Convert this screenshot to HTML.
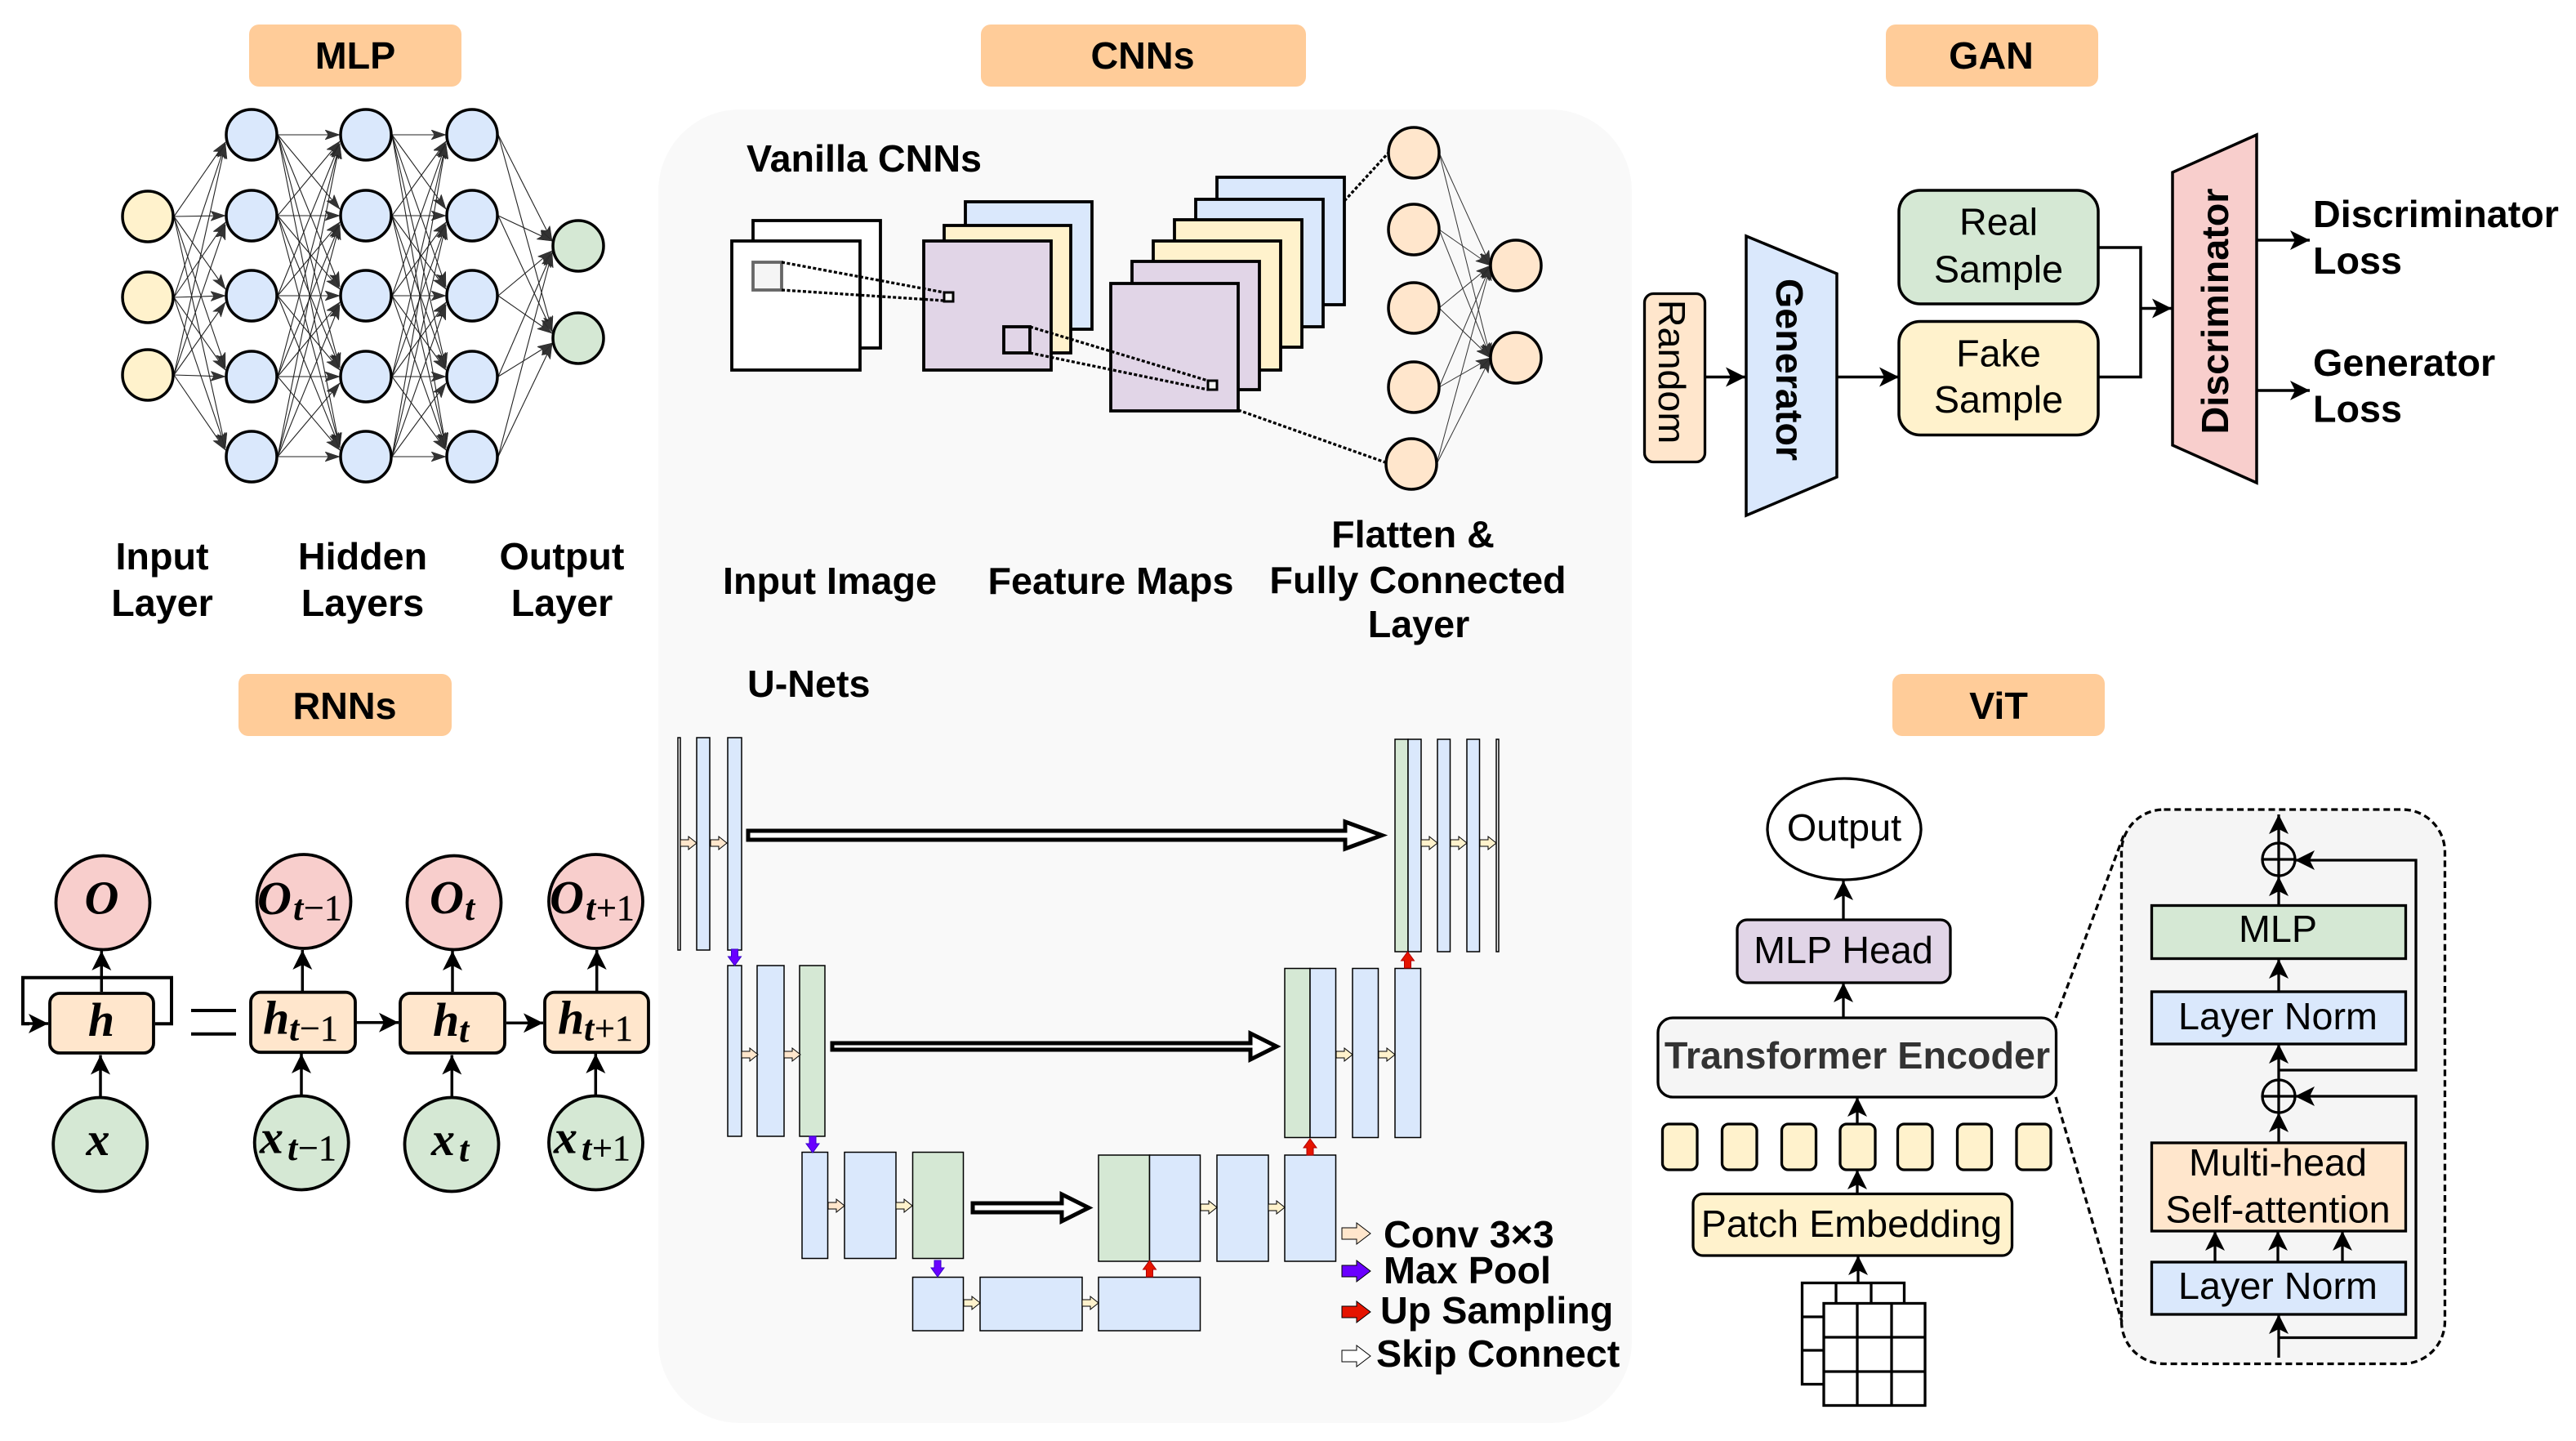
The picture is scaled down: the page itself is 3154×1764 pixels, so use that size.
<!DOCTYPE html>
<html><head><meta charset="utf-8"><title>Diagram</title>
<style>html,body{margin:0;padding:0;background:#fff}svg{display:block}text{font-family:"Liberation Sans",sans-serif;font-size:46.7px;fill:#000}.b{font-weight:700}.m{text-anchor:middle}.i{font-family:"Liberation Serif",serif;font-style:italic;font-weight:700;font-size:58px}.s{font-family:"Liberation Serif",serif;font-size:44px;stroke:#000;stroke-width:.4}.si{font-style:italic;font-weight:700;stroke:none}</style></head><body>
<svg xmlns="http://www.w3.org/2000/svg" width="3154" height="1764" viewBox="0 0 3154 1764">
<defs>
<marker id="g" markerUnits="userSpaceOnUse" markerWidth="20" markerHeight="14" refX="18" refY="6" orient="auto"><path d="M18 6L0 0L4 6L0 12Z" fill="#333" stroke="#222" stroke-width=".5"/></marker>
<marker id="a" markerUnits="userSpaceOnUse" markerWidth="26" markerHeight="26" refX="24" refY="12" orient="auto"><path d="M24 12L0 0L6 12L0 24Z" fill="#000"/></marker>
<path id="c" d="M0-4H10V-8L20 0L10 8V4H0Z" stroke="#000" stroke-width="1"/>
<path id="dn" d="M-4 0H4V9H8L0 20L-8 9H-4Z" fill="#6a00ff" stroke="#3700cc" stroke-width="1"/>
<path id="up" d="M-4 0H4V-9H8L0-20L-8-9H-4Z" fill="#e51400" stroke="#b20000" stroke-width="1"/>
<path id="l" d="M0-7H18V-13L35 0L18 13V7H0Z" stroke="#000" stroke-width="1"/>
</defs>

<!-- titles -->
<g fill="#ffcc99">
<rect x="305" y="30" width="260" height="76" rx="12"/>
<rect x="1201" y="30" width="398" height="76" rx="12"/>
<rect x="2309" y="30" width="260" height="76" rx="12"/>
<rect x="292" y="825" width="261" height="76" rx="12"/>
<rect x="2317" y="825" width="260" height="76" rx="12"/>
</g>
<text class="b m" x="435" y="84">MLP</text>
<text class="b m" x="1399" y="84">CNNs</text>
<text class="b m" x="2438" y="84">GAN</text>
<text class="b m" x="422" y="880">RNNs</text>
<text class="b m" x="2447" y="880">ViT</text>

<!-- MLP -->
<g stroke="#222" stroke-width="1.100" fill="none" marker-end="url(#g)">
<path d="M213 265L276 174"/><path d="M213 265L276 264"/><path d="M213 265L276 354"/><path d="M213 265L276 450"/><path d="M213 265L276 548"/>
<path d="M213 364L276 176"/><path d="M213 364L276 272"/><path d="M213 364L276 362"/><path d="M213 364L276 453"/><path d="M213 364L276 548"/>
<path d="M213 459L276 176"/><path d="M213 459L276 275"/><path d="M213 459L276 370"/><path d="M213 459L276 461"/><path d="M213 459L276 551"/>
<path d="M340 165L416 165"/><path d="M340 165L416 256"/><path d="M340 165L416 351"/><path d="M340 165L416 450"/><path d="M340 165L416 548"/>
<path d="M340 264L416 173"/><path d="M340 264L416 264"/><path d="M340 264L416 354"/><path d="M340 264L416 450"/><path d="M340 264L416 548"/>
<path d="M340 362L416 176"/><path d="M340 362L416 272"/><path d="M340 362L416 362"/><path d="M340 362L416 453"/><path d="M340 362L416 548"/>
<path d="M340 461L416 176"/><path d="M340 461L416 275"/><path d="M340 461L416 370"/><path d="M340 461L416 461"/><path d="M340 461L416 551"/>
<path d="M340 559L416 176"/><path d="M340 559L416 275"/><path d="M340 559L416 373"/><path d="M340 559L416 469"/><path d="M340 559L416 559"/>
<path d="M480 165L546 165"/><path d="M480 165L546 256"/><path d="M480 165L546 351"/><path d="M480 165L546 450"/><path d="M480 165L546 548"/>
<path d="M480 264L546 173"/><path d="M480 264L546 264"/><path d="M480 264L546 354"/><path d="M480 264L546 450"/><path d="M480 264L546 548"/>
<path d="M480 362L546 176"/><path d="M480 362L546 272"/><path d="M480 362L546 362"/><path d="M480 362L546 453"/><path d="M480 362L546 548"/>
<path d="M480 461L546 176"/><path d="M480 461L546 275"/><path d="M480 461L546 370"/><path d="M480 461L546 461"/><path d="M480 461L546 551"/>
<path d="M480 559L546 176"/><path d="M480 559L546 275"/><path d="M480 559L546 373"/><path d="M480 559L546 469"/><path d="M480 559L546 559"/>
<path d="M610 165L676 295"/><path d="M610 165L676 405"/><path d="M610 264L676 295"/><path d="M610 264L676 406"/><path d="M610 362L676 307"/><path d="M610 362L676 408"/><path d="M610 461L676 309"/><path d="M610 461L676 420"/><path d="M610 559L676 309"/><path d="M610 559L676 421"/>
</g>
<g stroke="#000" stroke-width="3.500">
<g fill="#fff2cc"><circle cx="181" cy="265" r="31"/><circle cx="181" cy="364" r="31"/><circle cx="181" cy="459" r="31"/></g>
<g fill="#dae8fc">
<circle cx="308" cy="165" r="31"/><circle cx="308" cy="264" r="31"/><circle cx="308" cy="362" r="31"/><circle cx="308" cy="461" r="31"/><circle cx="308" cy="559" r="31"/>
<circle cx="448" cy="165" r="31"/><circle cx="448" cy="264" r="31"/><circle cx="448" cy="362" r="31"/><circle cx="448" cy="461" r="31"/><circle cx="448" cy="559" r="31"/>
<circle cx="578" cy="165" r="31"/><circle cx="578" cy="264" r="31"/><circle cx="578" cy="362" r="31"/><circle cx="578" cy="461" r="31"/><circle cx="578" cy="559" r="31"/>
</g>
<g fill="#d5e8d4"><circle cx="708" cy="301" r="31"/><circle cx="708" cy="414" r="31"/></g>
</g>
<text class="b m" x="198.500" y="697">Input</text><text class="b m" x="198.500" y="754">Layer</text>
<text class="b m" x="444" y="697">Hidden</text><text class="b m" x="444" y="754">Layers</text>
<text class="b m" x="688" y="697">Output</text><text class="b m" x="688" y="754">Layer</text>

<!-- CNN panel -->
<rect x="806" y="134" width="1192" height="1608" rx="100" fill="#f9f9f9"/>
<text class="b" x="914" y="210">Vanilla CNNs</text>
<g stroke="#000" stroke-width="3.800">
<rect x="922" y="270" width="156" height="156" fill="#fff"/>
<rect x="896" y="295" width="157" height="158" fill="#fff"/>
<rect x="922" y="321" width="35" height="34" fill="#f5f5f5" stroke="#666"/>
<rect x="1182" y="247" width="155" height="156" fill="#dae8fc"/>
<rect x="1156" y="276" width="155" height="156" fill="#fff2cc"/>
<rect x="1131" y="295" width="156" height="158" fill="#e1d5e7"/>
<rect x="1156" y="358" width="11" height="11" fill="#f5f5f5" stroke-width="3"/>
<rect x="1229" y="400" width="32" height="32" fill="none"/>
<rect x="1490" y="217" width="156" height="156" fill="#dae8fc"/>
<rect x="1464" y="244" width="156" height="156" fill="#dae8fc"/>
<rect x="1438" y="269" width="156" height="156" fill="#fff2cc"/>
<rect x="1412" y="295" width="156" height="158" fill="#fff2cc"/>
<rect x="1386" y="320" width="156" height="157" fill="#e1d5e7"/>
<rect x="1360" y="347" width="156" height="156" fill="#e1d5e7"/>
<rect x="1479" y="466" width="11" height="11" fill="#f5f5f5" stroke-width="3"/>
</g>
<g stroke="#000" stroke-width="3.300" stroke-dasharray="4 2.500" fill="none">
<path d="M957 321L1156 358"/><path d="M957 355L1156 368"/>
<path d="M1261 400L1479 466"/><path d="M1261 432L1479 477"/>
<path d="M1646 246L1700 187"/><path d="M1516 502L1699 567"/>
</g>
<g stroke="#333" stroke-width="1" fill="none" marker-end="url(#g)">
<path d="M1762 187L1825 325"/><path d="M1762 187L1825 438"/>
<path d="M1762 281L1825 325"/><path d="M1762 281L1825 438"/>
<path d="M1762 377L1825 325"/><path d="M1762 377L1825 438"/>
<path d="M1762 474L1825 325"/><path d="M1762 474L1825 438"/>
<path d="M1759 568L1825 325"/><path d="M1759 568L1825 438"/>
</g>
<g fill="#ffe6cc" stroke="#000" stroke-width="3.500">
<circle cx="1731" cy="187" r="31"/><circle cx="1731" cy="281" r="31"/><circle cx="1731" cy="377" r="31"/><circle cx="1731" cy="474" r="31"/><circle cx="1728" cy="568" r="31"/>
<circle cx="1856" cy="325" r="31"/><circle cx="1856" cy="438" r="31"/>
</g>
<text class="b m" x="1016" y="727">Input Image</text>
<text class="b m" x="1360" y="727">Feature Maps</text>
<text class="b m" x="1730" y="670">Flatten &amp;</text>
<text class="b m" x="1736" y="726">Fully Connected</text>
<text class="b m" x="1737" y="780">Layer</text>

<!-- U-Net -->
<text class="b" x="915" y="853">U-Nets</text>
<g stroke="#000" stroke-width="1.500" fill="#dae8fc">
<rect x="830" y="903" width="3" height="260" fill="#f5f5f5"/>
<rect x="853" y="903" width="16" height="260"/>
<rect x="891" y="903" width="17" height="260"/>
<rect x="1708" y="905" width="16" height="260" fill="#d5e8d4"/>
<rect x="1724" y="905" width="16" height="260"/>
<rect x="1760" y="905" width="15.500" height="260"/>
<rect x="1796" y="905" width="15.500" height="260"/>
<rect x="1832" y="905" width="3" height="260" fill="#f5f5f5"/>
<rect x="891" y="1182" width="17" height="209"/>
<rect x="927" y="1182" width="33" height="209"/>
<rect x="979" y="1182" width="31" height="209" fill="#d5e8d4"/>
<rect x="1573" y="1185.500" width="31" height="207" fill="#d5e8d4"/>
<rect x="1604" y="1185.500" width="31.500" height="207"/>
<rect x="1656" y="1185.500" width="31.500" height="207"/>
<rect x="1708" y="1185.500" width="31.500" height="207"/>
<rect x="982" y="1410.500" width="31.500" height="130"/>
<rect x="1034" y="1410.500" width="63" height="130"/>
<rect x="1117.500" y="1410.500" width="62" height="130" fill="#d5e8d4"/>
<rect x="1345" y="1414" width="62.500" height="130" fill="#d5e8d4"/>
<rect x="1407.500" y="1414" width="62" height="130"/>
<rect x="1490" y="1414" width="63" height="130"/>
<rect x="1573" y="1414" width="62.500" height="130"/>
<rect x="1117.500" y="1563.500" width="62" height="65.500"/>
<rect x="1200" y="1563.500" width="125" height="65.500"/>
<rect x="1345" y="1563.500" width="124.500" height="65.500"/>
</g>
<g fill="#fff" stroke="#000" stroke-width="5">
<path d="M916 1017H1647V1006L1692 1022.500L1647 1039V1028H916Z"/>
<path d="M1019 1277H1531V1265L1563 1281L1531 1297V1285H1019Z"/>
<path d="M1191 1473H1300V1462L1333 1478.500L1300 1495V1484H1191Z"/>
</g>
<g fill="#ffe6cc">
<use href="#c" x="833" y="1032"/><use href="#c" x="870" y="1032"/>
<use href="#c" x="908" y="1291"/><use href="#c" x="960" y="1291"/>
<use href="#c" x="1014" y="1476"/>
</g>
<g fill="#fff2cc">
<use href="#c" x="1097" y="1476"/>
<use href="#c" x="1180" y="1595"/><use href="#c" x="1325" y="1595"/>
<use href="#c" x="1470" y="1478"/><use href="#c" x="1553" y="1478"/>
<use href="#c" x="1636" y="1291"/><use href="#c" x="1688" y="1291"/>
<use href="#c" x="1740" y="1032"/><use href="#c" x="1776" y="1032"/><use href="#c" x="1812" y="1032"/>
</g>
<use href="#dn" x="899.500" y="1162"/><use href="#dn" x="995" y="1391"/><use href="#dn" x="1148" y="1543"/>
<use href="#up" x="1723.500" y="1185"/><use href="#up" x="1604" y="1414"/><use href="#up" x="1407.500" y="1563"/>
<use href="#l" x="1643" y="1510" fill="#ffe6cc"/>
<use href="#l" x="1643" y="1556" fill="#6a00ff"/>
<use href="#l" x="1643" y="1606" fill="#e51400"/>
<use href="#l" x="1643" y="1660" fill="#fff"/>
<text class="b" x="1694" y="1527">Conv 3×3</text>
<text class="b" x="1694" y="1571">Max Pool</text>
<text class="b" x="1690" y="1620">Up Sampling</text>
<text class="b" x="1685" y="1673">Skip Connect</text>

<!-- GAN -->
<rect x="2013.500" y="359.500" width="74" height="206" rx="11" fill="#ffe6cc" stroke="#000" stroke-width="3.300"/>
<text class="m" transform="translate(2031 455) rotate(90)">Random</text>
<path d="M2138 289L2249 335V584L2138 631Z" fill="#dae8fc" stroke="#000" stroke-width="3.500"/>
<text class="b m" transform="translate(2175 452.500) rotate(90)">Generator</text>
<path d="M2660 211L2763 165V591L2660 545Z" fill="#f8cecc" stroke="#000" stroke-width="3.500"/>
<text class="b m" transform="translate(2728 381) rotate(-90)">Discriminator</text>
<rect x="2325" y="233" width="244" height="139" rx="26" fill="#d5e8d4" stroke="#000" stroke-width="3.500"/>
<rect x="2325" y="393.500" width="244" height="139" rx="26" fill="#fff2cc" stroke="#000" stroke-width="3.500"/>
<text class="m" x="2447" y="287.500">Real</text><text class="m" x="2447" y="345.500">Sample</text>
<text class="m" x="2447" y="448.300">Fake</text><text class="m" x="2447" y="505">Sample</text>
<path d="M2569 303H2621V461.500H2569" fill="none" stroke="#000" stroke-width="3.500"/>
<g stroke="#000" stroke-width="3.500" fill="none" marker-end="url(#a)">
<path d="M2088 461.500H2137"/><path d="M2249 461.500H2325"/><path d="M2621 377.500H2659"/><path d="M2763 294H2828"/><path d="M2763 478H2828"/>
</g>
<text class="b" x="2832" y="278">Discriminator</text><text class="b" x="2832" y="335">Loss</text>
<text class="b" x="2832" y="460">Generator</text><text class="b" x="2832" y="516.500">Loss</text>

<!-- RNN -->
<g stroke="#000" stroke-width="4" fill="none">
<path d="M190 1253.300H210V1196.700H28V1253.300H36"/>
<path d="M234 1237H289M234 1265.700H289"/>
</g>
<g stroke="#000" stroke-width="3.500" fill="none" marker-end="url(#a)">
<path d="M28 1253H59"/>
<path d="M124.300 1214V1164"/><path d="M123 1342V1291.500"/>
<path d="M370.300 1213V1163"/><path d="M369 1340V1290"/>
<path d="M554 1214V1164"/><path d="M553.300 1342V1291.500"/>
<path d="M730.700 1213V1163"/><path d="M729.300 1340V1290"/>
<path d="M436 1251.700H488"/><path d="M620 1252.300H665"/>
</g>
<g fill="#f8cecc" stroke="#000" stroke-width="3.800">
<circle cx="126" cy="1105" r="57.500"/><circle cx="372" cy="1103.500" r="57.500"/><circle cx="556" cy="1105" r="57.500"/><circle cx="729.500" cy="1103.500" r="57.500"/>
</g>
<g fill="#d5e8d4" stroke="#000" stroke-width="3.800">
<circle cx="122.700" cy="1401" r="57.500"/><circle cx="369.200" cy="1399" r="57.500"/><circle cx="553" cy="1401" r="57.500"/><circle cx="729.500" cy="1399" r="57.500"/>
</g>
<g fill="#ffe6cc" stroke="#000" stroke-width="3.800">
<rect x="61" y="1216" width="127" height="73" rx="12"/><rect x="307" y="1214.700" width="128" height="73.500" rx="12"/><rect x="490" y="1216" width="128" height="73" rx="12"/><rect x="667" y="1214.700" width="127" height="73.500" rx="12"/>
</g>
<text class="i m" x="124.500" y="1118.300">O</text>
<text class="i" x="315" y="1119">O</text><text class="s si" x="359" y="1126">t</text><text class="s" x="372" y="1126">−1</text>
<text class="i" x="526" y="1118">O</text><text class="s si" x="569" y="1126">t</text>
<text class="i" x="673" y="1118">O</text><text class="s si" x="717" y="1126">t</text><text class="s" x="730" y="1126">+1</text>
<text class="i m" x="124" y="1268">h</text>
<text class="i" x="322" y="1265.700">h</text><text class="s si" x="354" y="1273.300">t</text><text class="s" x="367" y="1273.300">−1</text>
<text class="i" x="530" y="1268">h</text><text class="s si" x="562" y="1275.700">t</text>
<text class="i" x="683" y="1265.700">h</text><text class="s si" x="715" y="1273.300">t</text><text class="s" x="728" y="1273.300">+1</text>
<text class="i m" x="120" y="1414">x</text>
<text class="i" x="318" y="1411.700">x</text><text class="s si" x="352" y="1420">t</text><text class="s" x="365" y="1420">−1</text>
<text class="i" x="528" y="1414">x</text><text class="s si" x="562" y="1421.700">t</text>
<text class="i" x="678" y="1411.700">x</text><text class="s si" x="712" y="1420">t</text><text class="s" x="725" y="1420">+1</text>

<!-- ViT -->
<rect x="2597.500" y="991" width="396" height="678.500" rx="52" fill="#f5f5f5" stroke="#000" stroke-width="3.300" stroke-dasharray="8 4.800"/>
<path d="M2517 1246L2600 1023M2517 1343L2598 1618" fill="none" stroke="#000" stroke-width="3.300" stroke-dasharray="8 4.800"/>
<g stroke="#000" stroke-width="3.300" fill="none" marker-end="url(#a)">
<path d="M2257 1126V1078"/><path d="M2257 1246V1203"/><path d="M2274 1376V1343"/><path d="M2274 1461V1432"/><path d="M2275 1570V1537"/>
<path d="M2790 1033V997"/><path d="M2790 1108V1073"/><path d="M2790 1214V1174"/><path d="M2790 1322V1278"/><path d="M2790 1398V1362"/>
<path d="M2712 1545V1507"/><path d="M2789 1545V1507"/><path d="M2868 1545V1507"/><path d="M2790 1662V1609"/>
<path d="M2790 1310H2958V1053H2810"/><path d="M2790 1637.500H2958V1342H2810"/>
</g>
<ellipse cx="2258" cy="1015" rx="94" ry="62" fill="#fff" stroke="#000" stroke-width="3.300"/>
<text class="m" x="2258" y="1029">Output</text>
<rect x="2127" y="1126" width="261" height="77" rx="12" fill="#e1d5e7" stroke="#000" stroke-width="3.300"/>
<text class="m" x="2257" y="1179">MLP Head</text>
<rect x="2030" y="1246" width="487.500" height="97" rx="18" fill="#f5f5f5" stroke="#000" stroke-width="3.300"/>
<text class="b m" x="2274" y="1308" style="fill:#333">Transformer Encoder</text>
<g fill="#fff2cc" stroke="#000" stroke-width="3.300">
<rect x="2035.500" y="1376" width="42.500" height="56" rx="8"/><rect x="2108.500" y="1376" width="42.500" height="56" rx="8"/><rect x="2181.500" y="1376" width="42" height="56" rx="8"/><rect x="2253" y="1376" width="43" height="56" rx="8"/><rect x="2323.500" y="1376" width="42.500" height="56" rx="8"/><rect x="2396.500" y="1376" width="42" height="56" rx="8"/><rect x="2469" y="1376" width="42" height="56" rx="8"/>
<rect x="2073" y="1461.500" width="390.500" height="75.500" rx="12"/>
</g>
<text class="m" x="2267" y="1514">Patch Embedding</text>
<g stroke="#000" stroke-width="3.300" fill="#fff">
<rect x="2206.500" y="1570.500" width="125" height="124"/>
<path d="M2248 1570.500V1694M2291 1570.500V1694M2206.500 1612H2331M2206.500 1653H2331" fill="none"/>
<rect x="2233" y="1595.500" width="124" height="125"/>
<path d="M2274 1595.500V1720.500M2316 1595.500V1720.500M2233 1637H2357M2233 1679H2357" fill="none"/>
</g>
<g stroke="#000" stroke-width="3.300">
<rect x="2634.500" y="1108.500" width="311" height="65" fill="#d5e8d4"/>
<rect x="2634.500" y="1214" width="311" height="64" fill="#dae8fc"/>
<rect x="2634.500" y="1399" width="311" height="108" fill="#ffe6cc"/>
<rect x="2634.500" y="1545" width="311" height="64" fill="#dae8fc"/>
<circle cx="2790" cy="1052" r="20" fill="none"/><path d="M2770 1052H2810M2790 1032V1072"/>
<circle cx="2790" cy="1342" r="20" fill="none"/><path d="M2770 1342H2810M2790 1322V1362"/>
</g>
<text class="m" x="2789" y="1153">MLP</text>
<text class="m" x="2789" y="1260">Layer Norm</text>
<text class="m" x="2789" y="1439">Multi-head</text>
<text class="m" x="2789" y="1496.500">Self-attention</text>
<text class="m" x="2789" y="1590">Layer Norm</text>
</svg>
</body></html>
